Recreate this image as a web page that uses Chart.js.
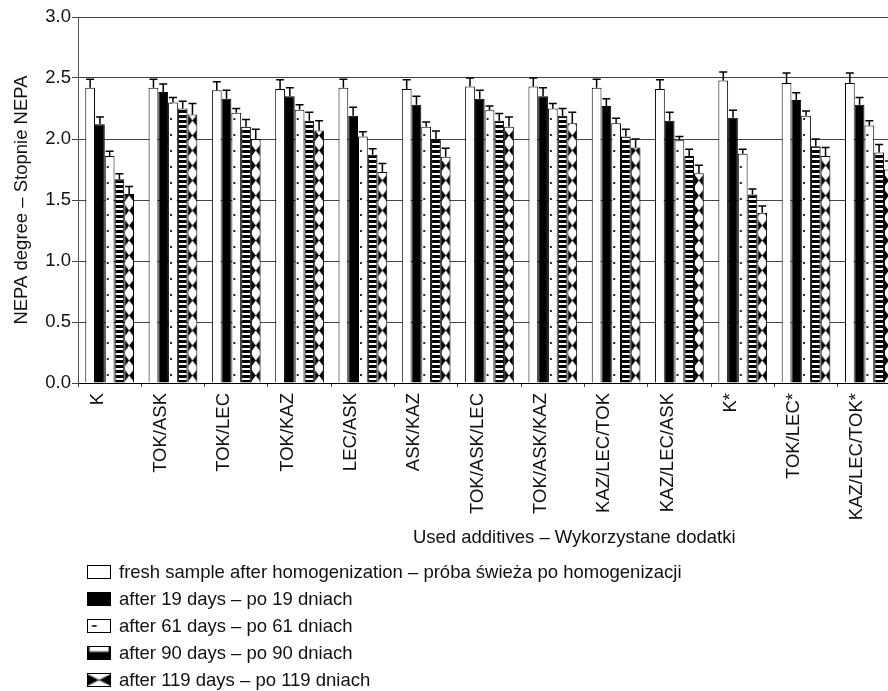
<!DOCTYPE html>
<html>
<head>
<meta charset="utf-8">
<script src="https://cdn.jsdelivr.net/npm/chart.js@4.4.1/dist/chart.umd.min.js"></script>
<style>
  html, body { margin: 0; padding: 0; background: #fff; overflow: hidden; }
  #wrap { width: 905px; height: 691px; }
</style>
</head>
<body>
<div id="wrap"><canvas id="nepaChart" width="905" height="691"></canvas></div>
<script>
// categories and series
const additives = ['K', 'TOK/ASK', 'TOK/LEC', 'TOK/KAZ', 'LEC/ASK', 'ASK/KAZ', 'TOK/ASK/LEC',
  'TOK/ASK/KAZ', 'KAZ/LEC/TOK', 'KAZ/LEC/ASK', 'K*', 'TOK/LEC*', 'KAZ/LEC/TOK*'];

const seriesNames = [
  'fresh sample after homogenization – próba świeża po homogenizacji',
  'after 19 days – po 19 dniach',
  'after 61 days – po 61 dniach',
  'after 90 days – po 90 dniach',
  'after 119 days – po 119 dniach'
];

const fresh  = [2.42, 2.42, 2.40, 2.41, 2.42, 2.41, 2.43, 2.43, 2.42, 2.41, 2.48, 2.46, 2.46];
const day19  = [2.12, 2.385, 2.33, 2.35, 2.19, 2.28, 2.33, 2.35, 2.27, 2.15, 2.175, 2.32, 2.28];
const day61  = [1.86, 2.30, 2.215, 2.24, 2.02, 2.10, 2.235, 2.25, 2.13, 1.99, 1.88, 2.19, 2.11];
const day90  = [1.67, 2.25, 2.10, 2.15, 1.87, 2.00, 2.15, 2.19, 2.02, 1.86, 1.545, 1.94, 1.89];
const day119 = [1.55, 2.20, 2.00, 2.07, 1.73, 1.855, 2.10, 2.13, 1.93, 1.72, 1.395, 1.86, 1.75];

// upper error bar lengths
const errFresh  = [0.07, 0.07, 0.07, 0.075, 0.07, 0.075, 0.07, 0.07, 0.07, 0.075, 0.07, 0.08, 0.08];
const err19     = [0.06, 0.065, 0.07, 0.07, 0.07, 0.07, 0.07, 0.07, 0.06, 0.07, 0.06, 0.06, 0.06];
const err61     = [0.04, 0.04, 0.035, 0.04, 0.04, 0.04, 0.035, 0.04, 0.04, 0.03, 0.035, 0.04, 0.04];
const err90     = [0.045, 0.06, 0.06, 0.07, 0.05, 0.065, 0.06, 0.06, 0.06, 0.055, 0.045, 0.06, 0.065];
const err119    = [0.06, 0.09, 0.08, 0.08, 0.07, 0.07, 0.08, 0.09, 0.07, 0.065, 0.055, 0.07, 0.07];

const yTicks = [0, 0.5, 1.0, 1.5, 2.0, 2.5, 3.0];

const FONT = 'Arial, "Liberation Sans", sans-serif';
const FONT_SIZE = 18.5;
const CAT_PCT = 0.77;

// ---- fill patterns ----
const tiles = {};

function makeTile(kind) {
  if (tiles[kind]) return tiles[kind];
  const c = document.createElement('canvas');
  const g = c.getContext('2d');
  if (kind === 'dots') {
    c.width = 10; c.height = 16;
    g.fillStyle = '#fff'; g.fillRect(0, 0, 10, 16);
    g.fillStyle = '#222'; g.fillRect(2, 7, 2, 2);
  } else if (kind === 'stripes') {
    c.width = 10; c.height = 5;
    g.fillStyle = '#000'; g.fillRect(0, 0, 10, 5);
    g.fillStyle = '#fff'; g.fillRect(1, 0, 8, 2);
  } else if (kind === 'bowtie') {
    c.width = 10; c.height = 15;
    g.fillStyle = '#fff'; g.fillRect(0, 0, 10, 15);
    g.fillStyle = '#000';
    g.beginPath(); g.moveTo(0, 1); g.lineTo(5, 7.5); g.lineTo(0, 14); g.closePath(); g.fill();
    g.beginPath(); g.moveTo(10, 1); g.lineTo(5, 7.5); g.lineTo(10, 14); g.closePath(); g.fill();
  }
  tiles[kind] = c;
  return c;
}

function patternAt(ctx2d, kind, left, top, sx, sy) {
  const p = ctx2d.createPattern(makeTile(kind), 'repeat');
  if (!isFinite(left)) left = 0;
  if (!isFinite(top)) top = 0;
  p.setTransform(new DOMMatrix().translate(left, top).scale(sx, sy));
  return p;
}

const fills = ['#ffffff', '#000000', 'dots', 'stripes', 'bowtie'];

function barFill(context) {
  const kind = fills[context.datasetIndex];
  if (kind[0] === '#') return kind;
  const chart = context.chart;
  const xs = chart.scales && chart.scales.x;
  let left = 0, barW = 10, bottom = 0;
  if (xs && chart.chartArea) {
    const catW = xs.width / additives.length;
    barW = catW * CAT_PCT / 5;
    const center = xs.getPixelForValue(context.dataIndex);
    left = center - catW * CAT_PCT / 2 + context.datasetIndex * barW;
    bottom = chart.chartArea.bottom;
  }
  return patternAt(chart.ctx, kind, left, bottom, barW / 10, 1);
}

// ---- error bars, x-axis title and legend ----
const errorBars = {
  id: 'errorBars',
  afterDatasetsDraw(chart) {
    const ctx = chart.ctx;
    const ys = chart.scales.y;
    const errs = [errFresh, err19, err61, err90, err119];
    ctx.save();
    ctx.strokeStyle = '#000';
    ctx.lineWidth = 1.5;
    chart.data.datasets.forEach((ds, di) => {
      chart.getDatasetMeta(di).data.forEach((bar, i) => {
        const top = ys.getPixelForValue(ds.data[i] + errs[di][i]);
        ctx.beginPath();
        ctx.moveTo(bar.x, bar.y);
        ctx.lineTo(bar.x, top);
        ctx.moveTo(bar.x - 4, top);
        ctx.lineTo(bar.x + 4, top);
        ctx.stroke();
      });
    });
    ctx.restore();
  }
};

const extras = {
  id: 'extras',
  afterDraw(chart) {
    const ctx = chart.ctx;
    const area = chart.chartArea;
    ctx.save();
    ctx.fillStyle = '#111';
    ctx.font = FONT_SIZE + 'px ' + FONT;
    ctx.textBaseline = 'middle';
    ctx.textAlign = 'center';
    ctx.fillText('Used additives – Wykorzystane dodatki', area.left + area.width * 0.603, 538);

    // legend, one entry per line
    ctx.textAlign = 'left';
    const bx = area.left + 9, bw = 24, bh = 14;
    seriesNames.forEach((name, i) => {
      const cy = 572 + i * 27;
      const kind = fills[i];
      ctx.fillStyle = kind[0] === '#' ? kind : patternAt(ctx, kind, bx, cy - bh / 2, bw / 10, bh / makeTile(kind).height);
      ctx.fillRect(bx, cy - bh / 2, bw, bh);
      ctx.strokeStyle = '#000';
      ctx.lineWidth = 1;
      ctx.strokeRect(bx + 0.5, cy - bh / 2 + 0.5, bw - 1, bh - 1);
      ctx.fillStyle = '#111';
      ctx.fillText(name, bx + bw + 8, cy + 1);
    });
    ctx.restore();
  }
};

const seriesData = [fresh, day19, day61, day90, day119];

const chart = new Chart(document.getElementById('nepaChart'), {
  type: 'bar',
  data: {
    labels: additives,
    datasets: seriesData.map((d, i) => ({
      label: seriesNames[i],
      data: d,
      backgroundColor: barFill,
      borderColor: '#000',
      borderWidth: 1,
      categoryPercentage: CAT_PCT,
      barPercentage: 1.0
    }))
  },
  options: {
    responsive: false,
    animation: false,
    devicePixelRatio: 1,
    layout: { padding: { top: 17, right: 4, left: 0, bottom: 0 } },
    plugins: {
      legend: { display: false },
      tooltip: { enabled: false }
    },
    scales: {
      x: {
        afterFit(scale) { scale.height = 308; },
        grid: { drawOnChartArea: false, drawTicks: true, tickLength: 4, color: '#444' },
        border: { color: '#000', width: 1 },
        ticks: {
          autoSkip: false,
          minRotation: 90,
          maxRotation: 90,
          padding: 6,
          labelOffset: -12,
          color: '#111',
          font: { family: FONT, size: FONT_SIZE }
        }
      },
      y: {
        min: 0,
        max: 3,
        afterFit(scale) { scale.width = 78; },
        afterBuildTicks(scale) { scale.ticks = yTicks.map(v => ({ value: v })); },
        grid: { color: '#444', lineWidth: 1, tickLength: 6 },
        border: { color: '#555', width: 1 },
        ticks: {
          padding: 1,
          color: '#111',
          font: { family: FONT, size: FONT_SIZE },
          callback: v => Number(v).toFixed(1)
        },
        title: {
          display: true,
          text: 'NEPA degree – Stopnie NEPA',
          color: '#111',
          font: { family: FONT, size: FONT_SIZE },
          padding: { top: 11, bottom: 0 }
        }
      }
    }
  },
  plugins: [errorBars, extras]
});
</script>
</body>
</html>
